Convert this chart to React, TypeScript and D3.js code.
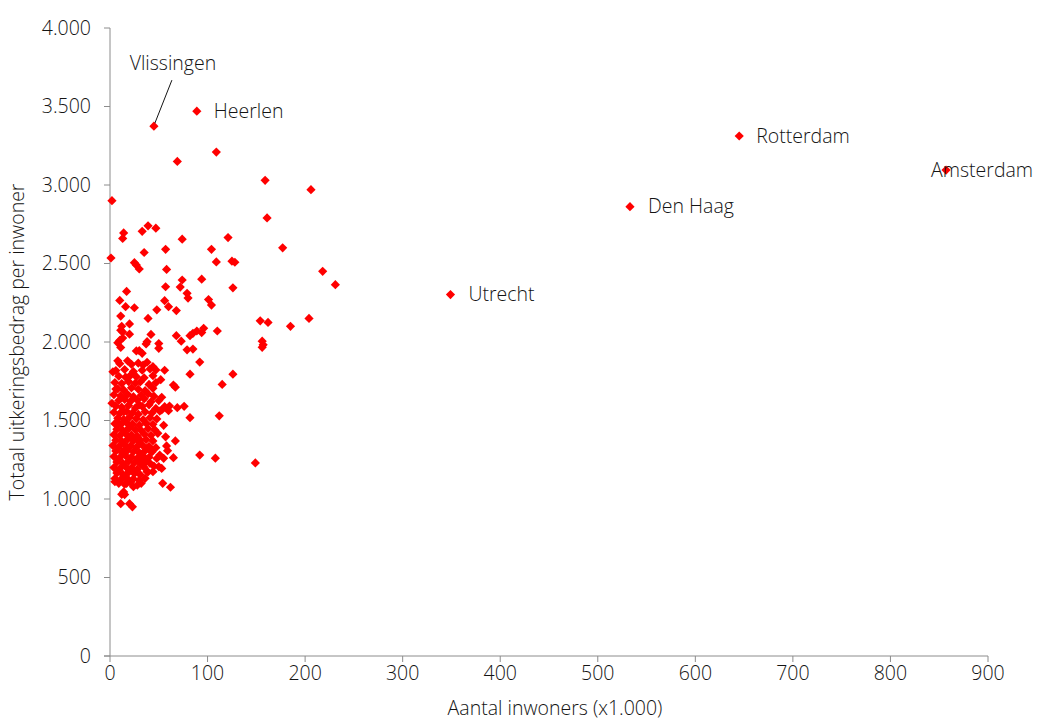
import * as d3 from "d3";
import { useEffect } from "react";

const W = 1038;
const H = 722;
const M = { left: 110, right: 50, top: 28, bottom: 66 };

// population (x1.000) and total benefit per inhabitant, for labelled cities
const cityNames = ["Vlissingen", "Heerlen", "Rotterdam", "Amsterdam", "Den Haag", "Utrecht"];
const cityPop = [45, 89, 645, 857, 533, 349];
const cityAmount = [3375, 3470, 3312, 3095, 2862, 2302];

// all other municipalities: [inwoners x1.000, uitkeringsbedrag per inwoner]
const municipalities: [number, number][] = [
  [2, 2900], [1, 2535], [2, 1610], [69, 3150], [109, 3210], [159, 3030], [206, 2970], [161, 2790],
  [14, 2695], [13, 2660], [33, 2705], [39, 2740], [47, 2725], [74, 2655], [121, 2665],
  [35, 2570], [57, 2590], [104, 2590], [177, 2600],
  [25, 2505], [27, 2490], [30, 2465], [58, 2462], [109, 2510], [125, 2515], [128, 2508], [218, 2450], [231, 2365],
  [17, 2322], [74, 2395], [72, 2350], [94, 2400], [126, 2345], [57, 2352], [79, 2310], [80, 2280],
  [10, 2265], [16, 2225], [25, 2218], [56, 2263], [60, 2225], [101, 2270], [104, 2235],
  [11, 2165], [39, 2150], [48, 2205], [68, 2200],
  [12, 2100], [11, 2075], [13, 2063], [20, 2115], [20, 2050], [10, 2010], [13, 2025], [8, 1995],
  [42, 2048], [38, 2002], [37, 1988], [50, 1990], [68, 2040], [73, 2005],
  [85, 2055], [89, 2070], [94, 2060], [96, 2087], [110, 2070], [82, 2040],
  [154, 2135], [162, 2125], [185, 2100], [204, 2150], [156, 2005], [157, 1982], [156, 1966],
  [92, 1872], [126, 1795], [82, 1795], [115, 1730], [76, 1590], [82, 1518], [112, 1530],
  [92, 1280], [108, 1260], [149, 1230],
  [11, 1965], [27, 1943], [30, 1945], [33, 1928], [50, 1960], [79, 1950], [85, 1955],
  [56, 1820], [65, 1726], [67, 1712], [69, 1582], [61, 1592], [56, 1588], [53, 1567],
  [8, 1880], [18, 1880], [3, 1810], [6, 1700], [34, 1853], [44, 1843], [47, 1822],
  [67, 1370], [58, 1338], [59, 1308], [65, 1263], [54, 1100], [62, 1075], [14, 1045], [12, 1030], [15, 1028],
  [11, 970], [20, 970], [23, 950],
  // dense cluster of small municipalities
  [10, 1862], [22, 1858], [29, 1866], [38, 1871],
  [6, 1818], [15, 1825], [24, 1812], [33, 1820], [41, 1828],
  [9, 1782], [16, 1776], [21, 1788], [27, 1779], [35, 1772], [44, 1785], [52, 1760],
  [5, 1742], [12, 1735], [19, 1748], [26, 1738], [31, 1746], [40, 1730], [47, 1741],
  [8, 1702], [14, 1695], [22, 1708], [29, 1699], [36, 1690], [44, 1705],
  [4, 1664], [11, 1658], [18, 1667], [24, 1652], [32, 1661], [39, 1670], [45, 1655], [53, 1648],
  [9, 1628], [15, 1634], [21, 1622], [28, 1630], [35, 1638], [42, 1619], [50, 1627],
  [6, 1592], [12, 1585], [19, 1596], [26, 1580], [33, 1590], [40, 1600], [47, 1577],
  [4, 1552], [10, 1545], [17, 1558], [23, 1548], [29, 1540], [36, 1555], [43, 1548], [51, 1560], [60, 1562],
  [8, 1515], [14, 1508], [20, 1520], [27, 1512], [34, 1505], [41, 1518], [48, 1510],
  [5, 1480], [11, 1474], [17, 1486], [23, 1478], [30, 1470], [37, 1483], [44, 1476], [55, 1469],
  [7, 1445], [13, 1438], [19, 1450], [26, 1442], [32, 1436], [39, 1448], [46, 1440],
  [4, 1410], [10, 1404], [16, 1416], [22, 1408], [28, 1400], [35, 1414], [42, 1406], [49, 1418], [57, 1396],
  [6, 1375], [12, 1368], [18, 1380], [24, 1372], [30, 1365], [37, 1378], [44, 1370],
  [3, 1340], [9, 1334], [15, 1346], [21, 1338], [27, 1330], [33, 1344], [40, 1336], [47, 1327],
  [6, 1305], [12, 1298], [18, 1310], [24, 1302], [30, 1295], [36, 1308], [43, 1300],
  [4, 1270], [10, 1264], [16, 1276], [22, 1268], [28, 1260], [34, 1274], [40, 1266], [48, 1258],
  [7, 1235], [13, 1228], [19, 1240], [25, 1232], [31, 1226], [37, 1238],
  [4, 1200], [10, 1194], [16, 1206], [22, 1198], [28, 1190], [35, 1203], [45, 1210],
  [7, 1165], [13, 1158], [19, 1170], [25, 1162], [31, 1155], [39, 1172],
  [5, 1130], [11, 1124], [17, 1136], [24, 1128], [30, 1120],
  [9, 1100], [15, 1094], [21, 1106], [28, 1088],
  [36, 1132], [32, 1100], [24, 1078], [17, 1100], [5, 1110], [44, 1174], [50, 1206], [53, 1195],
  [41, 1227], [38, 1174], [31, 1376], [41, 1312], [38, 1323], [51, 1280], [55, 1259],
  // a few more inside the crowded core
  [14, 1555], [20, 1455], [26, 1390], [16, 1320], [33, 1250], [20, 1180], [9, 1480], [30, 1600],
];

const xTicks = [0, 100, 200, 300, 400, 500, 600, 700, 800, 900];
const yTicks = [0, 500, 1000, 1500, 2000, 2500, 3000, 3500, 4000];

const xTitle = "Aantal inwoners (x1.000)";
const yTitle = "Totaal uitkeringsbedrag per inwoner";

const nl = d3.formatLocale({ decimal: ",", thousands: ".", grouping: [3], currency: ["€", ""] });
const fmt = nl.format(",");

const FONT = "'Open Sans', Roboto, sans-serif";
const FS = 19.5;
const FW = 300;
const INK = "#141414";
const AXIS = "#8c8c8c";
const RED = "#ff0000";
const R = 4.6;
const diamond = `M0,${-R}L${R},0L0,${R}L${-R},0Z`;

export default function App() {
  useEffect(() => {
    document.body.style.margin = "0";
  }, []);

  const x = d3.scaleLinear().domain([0, 900]).range([M.left, W - M.right]);
  const y = d3.scaleLinear().domain([0, 4000]).range([H - M.bottom, M.top]);
  const y0 = y(0);

  const labelDx: Record<string, number> = { Heerlen: 17, Rotterdam: 17, "Den Haag": 18, Utrecht: 18, Amsterdam: -15 };

  return (
    <svg width={W} height={H} style={{ display: "block", background: "#fff" }} fontFamily={FONT} fontWeight={FW}>
      {/* y axis */}
      <line x1={M.left} x2={M.left} y1={y(4000)} y2={y0} stroke={AXIS} />
      {yTicks.map((t) => (
        <g key={t}>
          <line x1={M.left - 6} x2={M.left} y1={y(t)} y2={y(t)} stroke={AXIS} />
          <text x={M.left - 19} y={y(t)} dy="0.35em" textAnchor="end" fontSize={FS} fill={INK}>
            {fmt(t)}
          </text>
        </g>
      ))}
      {/* x axis */}
      <line x1={M.left - 6} x2={x(900)} y1={y0} y2={y0} stroke={AXIS} />
      {xTicks.map((t) => (
        <g key={t}>
          <line x1={x(t)} x2={x(t)} y1={y0} y2={y0 + 6} stroke={AXIS} />
          <text x={x(t)} y={y0 + 24} textAnchor="middle" fontSize={FS} fill={INK}>
            {fmt(t)}
          </text>
        </g>
      ))}
      <text x={555} y={y0 + 59} textAnchor="middle" fontSize={FS} fill={INK}>
        {xTitle}
      </text>
      <text transform="translate(24,342) rotate(-90)" textAnchor="middle" fontSize={FS} fill={INK}>
        {yTitle}
      </text>

      {/* points */}
      {municipalities.map(([p, a], i) => (
        <path key={i} d={diamond} transform={`translate(${x(p)},${y(a)})`} fill={RED} />
      ))}
      {cityNames.map((n, i) => (
        <path key={n} d={diamond} transform={`translate(${x(cityPop[i])},${y(cityAmount[i])})`} fill={RED} />
      ))}

      {/* labels */}
      {cityNames.map((n, i) =>
        n === "Vlissingen" ? (
          <g key={n}>
            <line x1={x(cityPop[i]) + 18} y1={y(cityAmount[i]) - 46} x2={x(cityPop[i]) + 1} y2={y(cityAmount[i]) - 3} stroke={INK} />
            <text x={x(cityPop[i]) + 19} y={y(cityAmount[i]) - 56} textAnchor="middle" fontSize={FS} fill={INK}>
              {n}
            </text>
          </g>
        ) : (
          <text key={n} x={x(cityPop[i]) + labelDx[n]} y={y(cityAmount[i])} dy="0.35em" fontSize={FS} fill={INK}>
            {n}
          </text>
        )
      )}
    </svg>
  );
}
